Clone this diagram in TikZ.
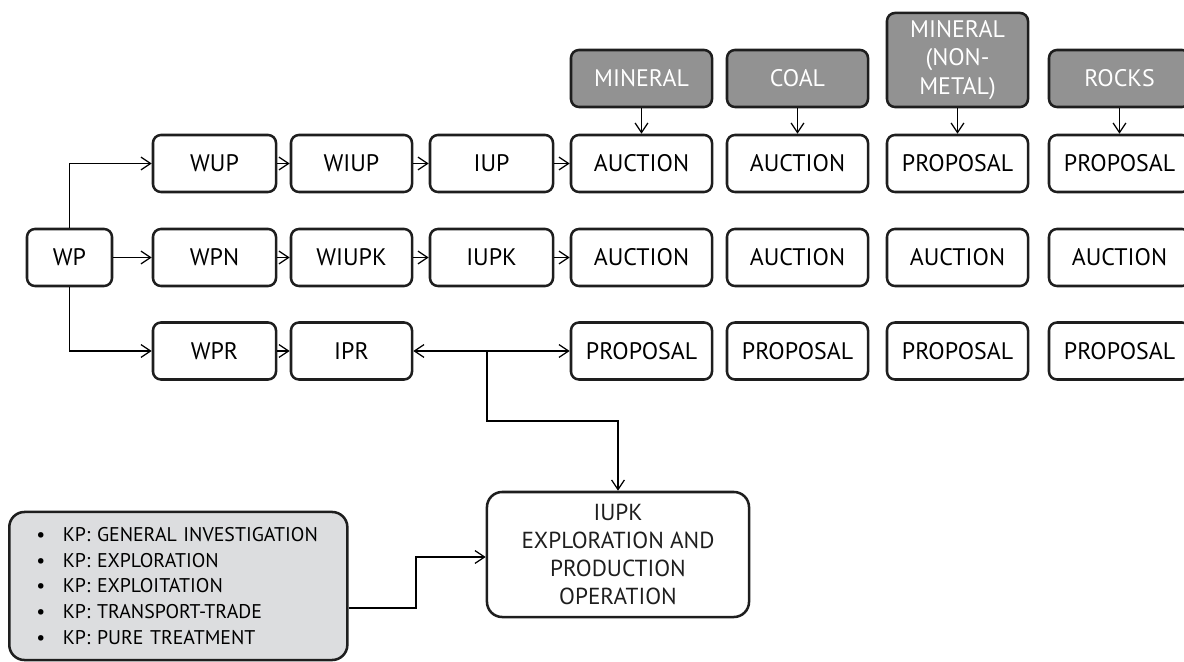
\documentclass[tikz,border=0pt]{standalone}
\usepackage{fontspec}
\setmainfont{PT Sans}
\usepackage{xcolor}
\usetikzlibrary{arrows.meta}
\definecolor{black}{HTML}{1E1E1E}
\definecolor{darkgray}{HTML}{929292}
\definecolor{lightgray}{HTML}{DCDDDF}

\tikzset{
  box/.style={draw=black, line width=1.8pt, rounded corners=0.2cm, align=center,
    minimum height=1.425cm, inner sep=0pt, font=\fontsize{17}{20.5}\selectfont},
  graybox/.style={box, fill=darkgray, text=white},
  bigbox/.style={box, rounded corners=0.38cm},
  barb/.tip={Straight Barb[length=0.24cm, width=0.32cm, line width=0.9pt]},
  arr/.style={-barb, line width=0.9pt},
  arrboth/.style={barb-barb, line width=0.9pt},
}
\newcommand{\kpitem}[1]{\hspace*{0.68cm}\makebox[0.66cm][l]{\textbullet}#1}

\begin{document}
\begin{tikzpicture}[x=0.025cm, y=-0.025cm]
         \useasboundingbox (0, 0) rectangle (1184, 662);

         % first columns
         \node[box, minimum width=2.125cm] (WP) at (69.5, 257.5) {WP};
         \node[box, minimum width=3.075cm] (WUP) at (214.5, 163.5) {WUP};
         \node[box, minimum width=3.075cm] (WPN) at (214.5, 257.5) {WPN};
         \node[box, minimum width=3.075cm] (WPR) at (214.5, 351) {WPR};
         \node[box, minimum width=3.025cm] (WIUP) at (351.5, 163.5) {WIUP};
         \node[box, minimum width=3.025cm] (WIUPK) at (351.5, 257.5) {WIUPK};
         \node[box, minimum width=3.025cm] (IPR) at (351.5, 351) {IPR};
         \node[box, minimum width=3.075cm] (IUP) at (491.5, 163.5) {IUP};
         \node[box, minimum width=3.075cm] (IUPK) at (491.5, 257.5) {IUPK};

         % commodity columns
         \node[graybox, minimum width=3.525cm] (minT) at (641.5, 78.5) {MINERAL};
         \node[graybox, minimum width=3.525cm] (coalT) at (797.5, 78.5) {COAL};
         \node[graybox, minimum width=3.525cm, minimum height=2.35cm] (nonT) at (957.5, 60) {MINERAL\\(NON-\\METAL)};
         \node[graybox, minimum width=3.525cm] (rockT) at (1119.5, 78.5) {ROCKS};

         \node[box, minimum width=3.525cm] (min1) at (641.5, 163.5) {AUCTION};
         \node[box, minimum width=3.525cm] (coal1) at (797.5, 163.5) {AUCTION};
         \node[box, minimum width=3.525cm] (non1) at (957.5, 163.5) {PROPOSAL};
         \node[box, minimum width=3.525cm] (rock1) at (1119.5, 163.5) {PROPOSAL};

         \node[box, minimum width=3.525cm] (min2) at (641.5, 257.5) {AUCTION};
         \node[box, minimum width=3.525cm] (coal2) at (797.5, 257.5) {AUCTION};
         \node[box, minimum width=3.525cm] (non2) at (957.5, 257.5) {AUCTION};
         \node[box, minimum width=3.525cm] (rock2) at (1119.5, 257.5) {AUCTION};

         \node[box, minimum width=3.525cm] (min3) at (641.5, 351) {PROPOSAL};
         \node[box, minimum width=3.525cm] (coal3) at (797.5, 351) {PROPOSAL};
         \node[box, minimum width=3.525cm] (non3) at (957.5, 351) {PROPOSAL};
         \node[box, minimum width=3.525cm] (rock3) at (1119.5, 351) {PROPOSAL};

         % bottom
         \node[bigbox, minimum width=6.55cm, minimum height=3.125cm, text=black,
               font=\fontsize{16.5}{19.8}\selectfont] (op) at (618, 554.5)
               {IUPK\\EXPLORATION AND\\PRODUCTION\\OPERATION};
         \node[bigbox, fill=lightgray, text width=8.45cm, minimum height=3.7cm,
               font=\fontsize{14.1}{18.2}\selectfont, anchor=west, align=left] (kp) at (8, 586)
               {\kpitem{KP: GENERAL INVESTIGATION}\\
                \kpitem{KP: EXPLORATION}\\
                \kpitem{KP: EXPLOITATION}\\
                \kpitem{KP: TRANSPORT-TRADE}\\
                \kpitem{KP: PURE TREATMENT}};

         % coords
         \coordinate (jn) at (487, 351);
         \coordinate (bend) at (487, 421);
         \coordinate (s1) at (416, 608);
         \coordinate (s2) at (416, 557);

         % connectors
         \draw[arr] (WP) |- (WUP);
         \draw[arr] (WP) -- (WPN);
         \draw[arr] (WP) |- (WPR);
         \draw[arr] (WUP) -- (WIUP);
         \draw[arr] (WIUP) -- (IUP);
         \draw[arr] (IUP) -- (min1);
         \draw[arr] (WPN) -- (WIUPK);
         \draw[arr] (WIUPK) -- (IUPK);
         \draw[arr] (IUPK) -- (min2);
         \draw[arr] (WPR) -- (IPR);
         \draw[arrboth] (IPR) -- (min3);
         \draw[arr] (jn) -- (bend) -| (op);
         \draw[arr] (kp.east |- s1) -- (s1) -- (s2) -- (op.west |- s2);

         \draw[arr] (minT) -- (min1);
         \draw[arr] (coalT) -- (coal1);
         \draw[arr] (nonT) -- (non1);
         \draw[arr] (rockT) -- (rock1);
      \end{tikzpicture}
\end{document}
